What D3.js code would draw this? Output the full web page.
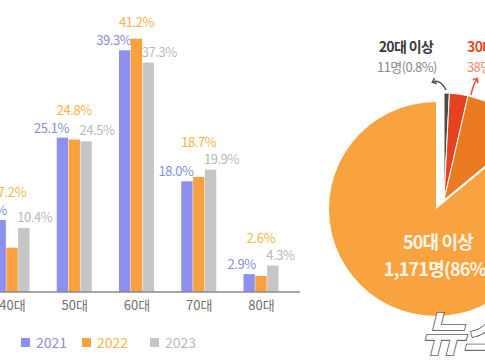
<!DOCTYPE html>
<html>
<head>
<meta charset="utf-8">
<script src="https://cdn.jsdelivr.net/npm/d3@7/dist/d3.min.js"></script>
<style>
  html, body { margin: 0; padding: 0; background: #fff; }
  svg { display: block; }
  text { font-family: "Noto Sans CJK KR", "Noto Sans", sans-serif; }
</style>
</head>
<body>
<svg id="chart" width="485" height="360"></svg>
<script>
// ---- data ----
const categories = ["40대", "50대", "60대", "70대", "80대"];
const years = ["2021", "2022", "2023"];
const values2021 = [11.7, 25.1, 39.3, 18.0, 2.9];
const values2022 = [7.2, 24.8, 41.2, 18.7, 2.6];
const values2023 = [10.4, 24.5, 37.3, 19.9, 4.3];

const pieGroups = ["20대 이상", "30대 이상", "40대 이상", "50대 이상"];
const pieCounts = [11, 38, 142, 1171];
const pieShares = ["0.8%", "2.8%", "10.4%", "86%"];

// ---- styles ----
const barColors = { "2021": "#8d90ee", "2022": "#f9a13f", "2023": "#c6c6c6" };
const labelColors = { "2021": "#8a8dde", "2022": "#f4b548", "2023": "#b9b9b9" };
const sliceColors = ["#4b4b4d", "#e5431f", "#eb7a22", "#f9a240"];

const svg = d3.select("#chart");
const series = { "2021": values2021, "2022": values2022, "2023": values2023 };

// ---- bar chart ----
const baseY = 292;
const x = d3.scalePoint().domain(categories).range([12, 261]);
const xSub = d3.scaleBand().domain(years).range([-17.5, 17.5]).paddingInner(0.04);
const y = d3.scaleLinear().domain([0, 45]).range([baseY, baseY - 45 * 6.15]);

const barsG = svg.append("g");
categories.forEach((cat, i) => {
  const g = barsG.append("g").attr("transform", `translate(${x(cat)},0)`);
  const tops = years.map(yr => y(series[yr][i]));
  const groupMinTop = Math.min(...tops);
  years.forEach((yr, k) => {
    const v = series[yr][i];
    const bx = xSub(yr), bw = xSub.bandwidth();
    g.append("rect")
      .attr("x", bx).attr("y", y(v))
      .attr("width", bw).attr("height", baseY - y(v))
      .attr("fill", barColors[yr]);
    let tx, ty, anchor;
    if (yr === "2021") { tx = bx + bw + 1; ty = y(v) - 5; anchor = "end"; }
    else if (yr === "2023") { tx = bx - 1; ty = y(v) - 6; anchor = "start"; }
    else {
      tx = bx + bw / 2; anchor = "middle";
      ty = (y(v) === groupMinTop) ? y(v) - 12 : groupMinTop - 23;
    }
    g.append("text")
      .attr("x", tx).attr("y", ty)
      .attr("text-anchor", anchor)
      .attr("font-size", 13)
      .attr("letter-spacing", -0.4)
      .attr("fill", labelColors[yr])
      .text(d3.format(".1f")(v) + "%");
  });
});

// axis
const xAxis = d3.axisBottom(x).tickSize(0).tickPadding(9);
const axG = svg.append("g").attr("transform", `translate(0,${baseY})`).call(xAxis);
axG.select(".domain").remove();
axG.selectAll("text").attr("font-size", 13).attr("fill", "#6e6e6e")
  .attr("font-family", "'Noto Sans CJK KR', sans-serif");
svg.append("line").attr("x1", 0).attr("x2", 300).attr("y1", baseY).attr("y2", baseY)
  .attr("stroke", "#8a8a8a").attr("stroke-width", 1.5);

// legend
const legendX = [21, 82, 150];
years.forEach((yr, k) => {
  svg.append("rect").attr("x", legendX[k]).attr("y", 338).attr("width", 9).attr("height", 9)
    .attr("fill", barColors[yr]);
  svg.append("text").attr("x", legendX[k] + 15).attr("y", 348)
    .attr("font-size", 14).attr("fill", labelColors[yr]).text(yr);
});

// ---- pie chart ----
const cx = 436, cy = 209, r = 107;
const smallOffset = [8, -9];
const pie = d3.pie().sort(null).value(d => d);
const arcs = pie(pieCounts);
const arc = d3.arc().innerRadius(0).outerRadius(r);
const pieG = svg.append("g").attr("transform", `translate(${cx},${cy})`);
arcs.forEach((a, i) => {
  const isBig = i === arcs.length - 1;
  pieG.append("path")
    .attr("d", arc(a))
    .attr("transform", isBig ? null : `translate(${smallOffset[0]},${smallOffset[1]})`)
    .attr("fill", sliceColors[i])
    .attr("stroke", "#fff").attr("stroke-width", isBig ? 0 : 1);
});

// arrow marker
const defs = svg.append("defs");
[["ah0", "#555"], ["ah1", "#e5532f"]].forEach(([id, col]) => {
  defs.append("marker").attr("id", id).attr("viewBox", "0 0 10 10")
    .attr("refX", 5).attr("refY", 5).attr("markerWidth", 5).attr("markerHeight", 5)
    .attr("orient", "auto-start-reverse")
    .append("path").attr("d", "M1,1 L6,5 L1,9").attr("fill", "none")
    .attr("stroke", col).attr("stroke-width", 2);
});

// labels for small slices
const sx = cx + smallOffset[0], sy = cy + smallOffset[1];
// 20대
svg.append("text").attr("x", 406).attr("y", 52).attr("text-anchor", "middle")
  .attr("font-size", 14).attr("font-weight", "bold").attr("fill", "#3b3b3b")
  .attr("letter-spacing", -0.6).text(pieGroups[0]);
svg.append("text").attr("x", 407).attr("y", 72).attr("text-anchor", "middle")
  .attr("font-size", 13).attr("fill", "#8a8a8a").attr("letter-spacing", -0.6)
  .text(d3.format(",")(pieCounts[0]) + "명(" + pieShares[0] + ")");
svg.append("path")
  .attr("d", `M${sx + 2},${sy - r - 3} Q${sx - 4},${sy - r - 14} ${sx - 11},${sy - r - 11}`)
  .attr("fill", "none").attr("stroke", "#555").attr("stroke-width", 1.5)
  .attr("marker-end", "url(#ah0)");
// 30대
svg.append("text").attr("x", 467).attr("y", 52)
  .attr("font-size", 14).attr("font-weight", "bold").attr("fill", "#e04a2a")
  .attr("letter-spacing", -0.6).text(pieGroups[1]);
svg.append("text").attr("x", 467).attr("y", 72)
  .attr("font-size", 13).attr("fill", "#ee8a6f").attr("letter-spacing", -0.6)
  .text(d3.format(",")(pieCounts[1]) + "명(" + pieShares[1] + ")");
svg.append("path")
  .attr("d", `M${sx + 27},${sy - r + 2} Q${sx + 29},${sy - r - 8} ${sx + 33},${sy - r - 14}`)
  .attr("fill", "none").attr("stroke", "#e5532f").attr("stroke-width", 1.5)
  .attr("marker-end", "url(#ah1)");

// big slice label
svg.append("text").attr("x", cx + 2).attr("y", cy + 40).attr("text-anchor", "middle")
  .attr("font-size", 18).attr("font-weight", "bold").attr("fill", "#fff6e6")
  .attr("letter-spacing", -0.8).text(pieGroups[3]);
svg.append("text").attr("x", cx + 2).attr("y", cy + 67).attr("text-anchor", "middle")
  .attr("font-size", 18).attr("font-weight", "bold").attr("fill", "#fff6e6")
  .attr("letter-spacing", -0.8)
  .text(d3.format(",")(pieCounts[3]) + "명(" + pieShares[3] + ")");

// watermark
svg.append("text").attr("x", 421).attr("y", 351)
  .attr("font-size", 48).attr("font-weight", "bold").attr("font-style", "italic")
  .attr("fill", "#ffffff").attr("stroke", "#4a4a4a").attr("stroke-width", 1.6)
  .attr("paint-order", "stroke").attr("letter-spacing", -2)
  .text("뉴스1");
</script>
</body>
</html>
